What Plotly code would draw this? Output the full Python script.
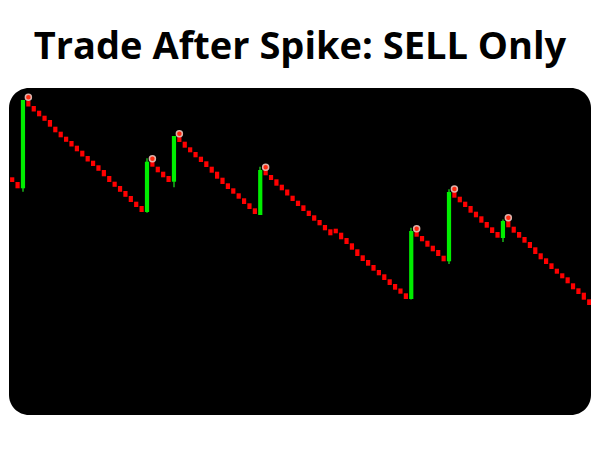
import plotly.graph_objects as go

# ---- data (price units; one candle per bar index) ----
bar_index = list(range(108))

open_ = [
    1322.7, 1318.0, 1311.7, 1399.3, 1394.0, 1389.3, 1384.3, 1380.0, 1373.3, 1368.3,
    1363.3, 1359.0, 1354.3, 1349.3, 1344.0, 1339.3, 1334.7, 1330.0, 1324.0, 1318.3,
    1314.0, 1309.0, 1304.0, 1298.3, 1294.0, 1288.0, 1338.3, 1333.3, 1328.3, 1324.0,
    1318.3, 1363.3, 1358.3, 1352.7, 1348.0, 1343.3, 1338.7, 1333.3, 1328.3, 1322.3,
    1316.7, 1311.7, 1306.7, 1301.7, 1296.7, 1291.7, 1285.0, 1330.0, 1325.0, 1320.7,
    1315.3, 1310.5, 1304.3, 1299.3, 1294.7, 1289.3, 1284.7, 1280.0, 1275.0, 1270.7,
    1271.3, 1267.3, 1262.0, 1256.7, 1250.7, 1244.7, 1240.0, 1235.0, 1230.0, 1225.7,
    1220.7, 1216.0, 1211.5, 1206.7, 1201.0, 1269.0, 1264.0, 1259.3, 1254.3, 1250.0,
    1244.3, 1238.7, 1308.3, 1303.3, 1298.3, 1294.0, 1288.3, 1283.7, 1278.0, 1272.7,
    1268.0, 1262.0, 1279.3, 1273.3, 1268.0, 1263.0, 1258.0, 1252.7, 1246.7, 1241.7,
    1236.7, 1231.3, 1226.7, 1222.7, 1216.7, 1211.7, 1207.3, 1200.7,
]

close = [
    1318.0, 1311.7, 1400.0, 1393.5, 1388.5, 1383.7, 1379.2, 1373.3, 1367.7, 1362.7,
    1358.2, 1353.5, 1348.7, 1343.5, 1338.5, 1334.0, 1329.2, 1323.7, 1318.0, 1313.2,
    1308.2, 1303.2, 1298.0, 1293.0, 1288.0, 1338.3, 1333.3, 1327.7, 1322.7, 1318.0,
    1364.0, 1358.0, 1352.3, 1347.7, 1342.7, 1338.0, 1333.0, 1327.3, 1321.3, 1316.0,
    1311.0, 1306.3, 1301.3, 1296.0, 1291.0, 1286.0, 1330.0, 1324.7, 1320.0, 1314.3,
    1309.7, 1304.5, 1299.0, 1294.0, 1289.0, 1284.0, 1279.3, 1274.7, 1269.7, 1264.7,
    1266.7, 1260.7, 1256.0, 1250.3, 1244.0, 1239.0, 1234.3, 1229.3, 1224.7, 1220.0,
    1215.0, 1210.3, 1206.3, 1201.0, 1269.0, 1263.3, 1258.7, 1253.3, 1248.7, 1244.0,
    1238.7, 1308.0, 1302.3, 1297.7, 1293.0, 1287.3, 1282.7, 1277.3, 1272.3, 1267.0,
    1262.3, 1279.0, 1272.7, 1267.3, 1262.3, 1257.3, 1252.0, 1246.0, 1240.7, 1236.0,
    1231.0, 1226.3, 1221.7, 1216.7, 1210.7, 1206.0, 1200.3, 1195.0,
]

# spike candles (the only ones with visible wicks)
spike_index = [2, 25, 30, 46, 74, 81, 91]
spike_high = [1400.0, 1341.7, 1364.0, 1333.3, 1272.3, 1310.7, 1280.5]
spike_low = [1308.3, 1287.3, 1312.7, 1285.0, 1200.5, 1236.0, 1258.0]

# SELL entries after each spike
signal_index = [3, 26, 31, 47, 75, 82, 92]
signal_price = [1402.7, 1341.3, 1366.3, 1332.7, 1271.3, 1311.0, 1282.3]

TITLE = "Trade After Spike: SELL Only"

# ---- build figure ----
body_base = [min(o, c) for o, c in zip(open_, close)]
body_len = [abs(c - o) for o, c in zip(open_, close)]
body_color = ["#00ee00" if c > o else "#ff0000" for o, c in zip(open_, close)]
wick_len = [h - l for h, l in zip(spike_high, spike_low)]

fig = go.Figure()
fig.add_trace(go.Bar(
    x=spike_index, base=spike_low, y=wick_len, width=0.2,
    marker=dict(color="#138a13", line=dict(width=0)), hoverinfo="skip",
))
fig.add_trace(go.Bar(
    x=bar_index, base=body_base, y=body_len, width=0.78,
    marker=dict(color=body_color, line=dict(width=0)),
))
fig.add_trace(go.Scatter(
    x=signal_index, y=signal_price, mode="markers",
    marker=dict(symbol="circle", size=6, color="#ff2a10",
                line=dict(color="rgba(225,185,178,0.95)", width=1.5)),
))

# rounded black panel behind the plot area
W_PX, H_PX, R = 582.0, 327.0, 20.0
rx, ry, k = R / W_PX, R / H_PX, 0.5523
path = (
    f"M {rx},0 L {1-rx},0 C {1-rx+k*rx},0 1,{ry-k*ry} 1,{ry} "
    f"L 1,{1-ry} C 1,{1-ry+k*ry} {1-rx+k*rx},1 {1-rx},1 "
    f"L {rx},1 C {rx-k*rx},1 0,{1-ry+k*ry} 0,{1-ry} "
    f"L 0,{ry} C 0,{ry-k*ry} {rx-k*rx},0 {rx},0 Z"
)

# the page body has an 8px margin, so the figure is 592x442 placed at (8, 8)
fig.update_layout(
    width=592, height=442,
    showlegend=False,
    barmode="overlay",
    paper_bgcolor="white",
    plot_bgcolor="rgba(0,0,0,0)",
    margin=dict(l=1, r=9, t=80, b=35),
    title=dict(text=TITLE, x=(300 - 8) / 592, xanchor="center", xref="container",
               y=1 - 37.4 / 442, yanchor="middle", yref="container",
               font=dict(family="Open Sans", size=38, color="black", weight="bold")),
    xaxis=dict(range=[-0.59, 107.33], visible=False, fixedrange=True),
    yaxis=dict(range=[1085, 1412], visible=False, fixedrange=True),
    shapes=[dict(type="path", path=path, xref="paper", yref="paper",
                 fillcolor="black", line=dict(width=0), layer="below")],
)

fig.write_html("out.html")
